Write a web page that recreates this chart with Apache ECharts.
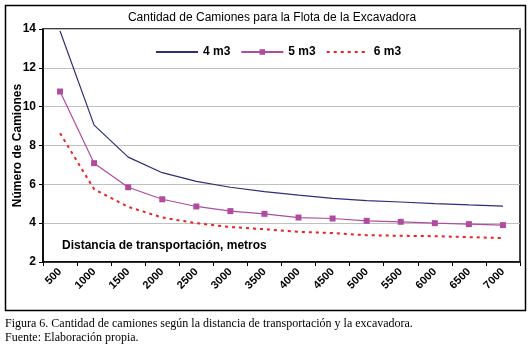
<!DOCTYPE html>
<html>
<head>
<meta charset="utf-8">
<script src="https://cdn.jsdelivr.net/npm/echarts@6/dist/echarts.min.js"></script>
<style>
  html, body { margin: 0; padding: 0; background: #fff; }
  #chart { width: 529px; height: 348px; }
</style>
</head>
<body>
<div id="chart"></div>
<script>
  // distancia de transportación (m)
  var distancias = ['500', '1000', '1500', '2000', '2500', '3000', '3500', '4000',
                    '4500', '5000', '5500', '6000', '6500', '7000'];
  var camiones4 = [13.9, 9.05, 7.4, 6.6, 6.15, 5.85, 5.62, 5.44, 5.28, 5.16, 5.09, 5.01, 4.94, 4.88];
  var camiones5 = [10.78, 7.09, 5.85, 5.23, 4.86, 4.62, 4.48, 4.29, 4.24, 4.12, 4.07, 4.0, 3.95, 3.9];
  var camiones6 = [8.63, 5.75, 4.84, 4.29, 4.0, 3.8, 3.69, 3.55, 3.49, 3.38, 3.35, 3.33, 3.28, 3.23];

  var chart = echarts.init(document.getElementById('chart'));

  var option = {
    animation: false,
    backgroundColor: '#fff',
    textStyle: { fontFamily: 'Arial, "Liberation Sans", sans-serif' },
    title: {
      text: 'Cantidad de Camiones para la Flota de la Excavadora',
      left: 267,
      textAlign: 'center',
      top: 7,
      textStyle: { fontSize: 12, fontWeight: 'normal', color: '#000' }
    },
    legend: {
      left: 150,
      top: 41,
      itemWidth: 42,
      itemHeight: 7,
      itemGap: 10,
      textStyle: { fontSize: 12, fontWeight: 'bold', color: '#000' },
      data: [
        { name: '4 m3', itemStyle: { opacity: 0 } },
        { name: '5 m3' },
        { name: '6 m3', itemStyle: { opacity: 0 } }
      ]
    },
    grid: {
      left: 43,
      right: 9,
      top: 29,
      bottom: 86,
      outerBoundsMode: 'none',
      show: true,
      borderColor: '#000',
      borderWidth: 1.5
    },
    xAxis: {
      type: 'category',
      data: distancias,
      boundaryGap: true,
      axisLine: { lineStyle: { color: '#000', width: 1.5 } },
      axisTick: { show: true, length: 4, lineStyle: { color: '#000' } },
      axisLabel: {
        interval: 0,
        rotate: 45,
        margin: 8,
        fontSize: 11,
        fontWeight: 'bold',
        color: '#000'
      },
      splitLine: { show: false }
    },
    yAxis: {
      type: 'value',
      min: 2,
      max: 14,
      interval: 2,
      name: 'Número de Camiones',
      nameLocation: 'middle',
      nameGap: 19,
      nameMoveOverlap: false,
      nameRotate: 90,
      nameTextStyle: { fontSize: 12, fontWeight: 'bold', color: '#000' },
      axisLine: { show: true, lineStyle: { color: '#000', width: 1.5 } },
      axisTick: { show: true, length: 4, lineStyle: { color: '#000' } },
      axisLabel: { fontSize: 12, fontWeight: 'bold', color: '#000', margin: 7 },
      splitLine: { lineStyle: { color: '#c0c0c0', width: 1 } }
    },
    series: [{
      name: '4 m3',
      type: 'line',
      data: camiones4,
      symbol: 'none',
      color: '#2e2e78',
      lineStyle: { width: 1.2, color: '#2e2e78' }
    }, {
      name: '5 m3',
      type: 'line',
      data: camiones5,
      symbol: 'rect',
      symbolSize: 6,
      color: '#b04ca0',
      itemStyle: { color: '#b04ca0' },
      lineStyle: { width: 1.2, color: '#b04ca0' }
    }, {
      name: '6 m3',
      type: 'line',
      data: camiones6,
      symbol: 'none',
      color: '#f02020',
      lineStyle: { width: 2, color: '#f02020', type: [3, 4] }
    }],
    graphic: [{
      type: 'rect',
      shape: { x: 5.5, y: 5.5, width: 520, height: 305 },
      style: { fill: null, stroke: '#000', lineWidth: 1.5 },
      silent: true
    }, {
      type: 'text',
      left: 62,
      top: 240,
      style: {
        text: 'Distancia de transportación, metros',
        font: 'bold 12px Arial, "Liberation Sans", sans-serif',
        fill: '#000'
      }
    }, {
      type: 'text',
      left: 5,
      top: 318,
      style: {
        text: 'Figura 6. Cantidad de camiones según la distancia de transportación y la excavadora.',
        font: '12px "Liberation Serif", "Times New Roman", serif',
        fill: '#000'
      }
    }, {
      type: 'text',
      left: 5,
      top: 332,
      style: {
        text: 'Fuente: Elaboración propia.',
        font: '12px "Liberation Serif", "Times New Roman", serif',
        fill: '#000'
      }
    }]
  };

  chart.setOption(option);
</script>
</body>
</html>
